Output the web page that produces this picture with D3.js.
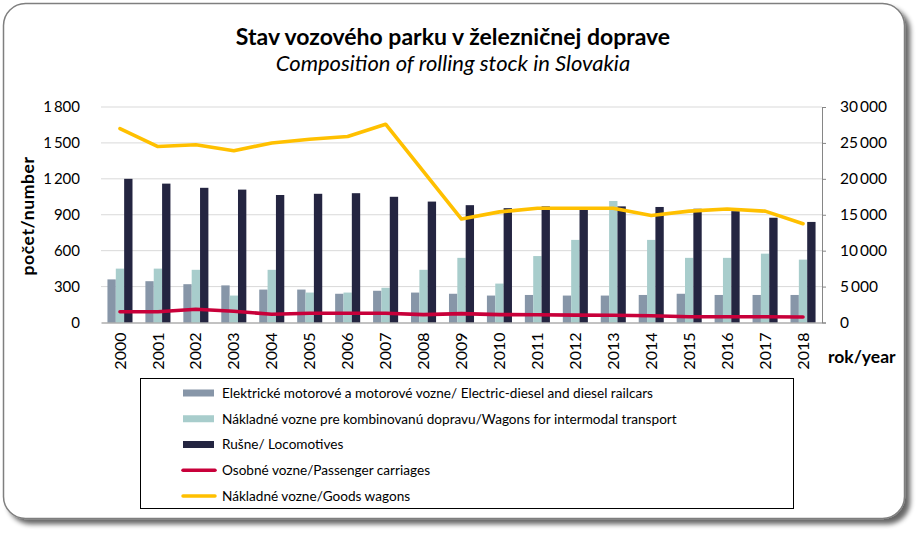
<!DOCTYPE html>
<html>
<head>
<meta charset="utf-8">
<script src="https://cdn.jsdelivr.net/npm/d3@7"></script>
<style>
  html, body { margin: 0; padding: 0; background: #ffffff; }
  svg { display: block; }
  text { font-family: Lato, "Open Sans", sans-serif; fill: #000; }
</style>
</head>
<body>
<svg id="chart" width="919" height="533"></svg>
<script>
const years = ["2000","2001","2002","2003","2004","2005","2006","2007","2008","2009","2010","2011","2012","2013","2014","2015","2016","2017","2018"];
const railcars =     [360, 345, 320, 310, 275, 275, 240, 265, 250, 240, 225, 230, 225, 225, 230, 240, 230, 230, 230];
const intermodal =   [450, 450, 440, 225, 440, 250, 250, 290, 440, 540, 325, 555, 690, 1015, 690, 540, 540, 575, 525];
const locomotives =  [1200, 1160, 1125, 1110, 1065, 1075, 1080, 1050, 1010, 980, 955, 970, 940, 970, 965, 950, 930, 875, 840];
const passenger =    [1500, 1500, 1850, 1560, 1150, 1280, 1280, 1280, 1090, 1230, 1100, 1070, 1030, 1000, 950, 810, 800, 800, 770];
const goods =        [27000, 24500, 24750, 23900, 25000, 25500, 25900, 27600, 21000, 14400, 15400, 15900, 15900, 15900, 14900, 15500, 15800, 15500, 13750];
const leftTicks = [0, 300, 600, 900, 1200, 1500, 1800];
const rightTicks = [0, 5000, 10000, 15000, 20000, 25000, 30000];

const barSeries = [
  { name: "Elektrické motorové a motorové vozne/ Electric-diesel and diesel railcars", values: railcars, color: "#8796a8" },
  { name: "Nákladné vozne pre kombinovanú dopravu/Wagons for intermodal transport", values: intermodal, color: "#a8cdcc" },
  { name: "Rušne/ Locomotives", values: locomotives, color: "#242541" }
];
const lineSeries = [
  { name: "Osobné vozne/Passenger carriages", values: passenger, color: "#c8003a" },
  { name: "Nákladné vozne/Goods wagons", values: goods, color: "#ffc000" }
];

const svg = d3.select("#chart");
const fmt = v => d3.format(",")(v).replace(/,/g, "\u2009");

// card with shadow
const defs = svg.append("defs");
const f = defs.append("filter").attr("id", "sh").attr("x", "-5%").attr("y", "-5%").attr("width", "115%").attr("height", "115%");
f.append("feGaussianBlur").attr("in", "SourceAlpha").attr("stdDeviation", 2.5).attr("result", "b");
f.append("feOffset").attr("in", "b").attr("dx", 5).attr("dy", 5).attr("result", "o");
f.append("feComponentTransfer").attr("in", "o").attr("result", "o2")
  .append("feFuncA").attr("type", "linear").attr("slope", 0.6);
const m = f.append("feMerge");
m.append("feMergeNode").attr("in", "o2");
m.append("feMergeNode").attr("in", "SourceGraphic");

svg.append("rect").attr("x", 3.5).attr("y", 3.5).attr("width", 901).attr("height", 515)
  .attr("rx", 22).attr("ry", 22).attr("fill", "#fff").attr("stroke", "#7f7f7f").attr("stroke-width", 1.5)
  .attr("filter", "url(#sh)");

// titles
svg.append("text").attr("x", 453).attr("y", 45).attr("text-anchor", "middle")
  .style("font-size", "23px").style("font-weight", "bold").text("Stav vozového parku v železničnej doprave");
svg.append("text").attr("x", 453).attr("y", 71).attr("text-anchor", "middle")
  .style("font-size", "22px").style("font-style", "italic").text("Composition of rolling stock in Slovakia");

const plotL = 101, plotR = 822, plotT = 107, plotB = 322.5;

const x = d3.scaleBand().domain(years).range([plotL, plotR]).paddingInner(0.34).paddingOuter(0.17);
const xs = d3.scaleBand().domain(d3.range(barSeries.length)).range([0, x.bandwidth()]);
const yL = d3.scaleLinear().domain([0, 1800]).range([plotB, plotT]);
const yR = d3.scaleLinear().domain([0, 30000]).range([plotB, plotT]);

// gridlines
svg.append("g").selectAll("line").data(leftTicks.filter(d => d > 0)).join("line")
  .attr("x1", plotL).attr("x2", plotR).attr("y1", d => yL(d)).attr("y2", d => yL(d))
  .attr("stroke", "#d9d9d9").attr("stroke-width", 1);

// left axis labels
const gL = svg.append("g").attr("transform", `translate(${plotL},0)`)
  .call(d3.axisLeft(yL).tickValues(leftTicks).tickFormat(fmt).tickSize(0).tickPadding(21));
gL.select(".domain").remove();
gL.selectAll("text").style("font-size", "15px").style("font-family", "Lato, sans-serif").attr("fill", "#000");

// right axis
const gR = svg.append("g").attr("transform", `translate(${plotR},0)`)
  .call(d3.axisRight(yR).tickValues(rightTicks).tickFormat(fmt).tickSize(4).tickPadding(14));
gR.select(".domain").attr("stroke", "#868686");
gR.selectAll(".tick line").attr("stroke", "#868686");
gR.selectAll("text").style("font-size", "15.5px").style("font-family", "Lato, sans-serif").attr("fill", "#000");

// bars
const groups = svg.append("g").selectAll("g").data(years).join("g")
  .attr("transform", d => `translate(${x(d)},0)`);
barSeries.forEach((s, si) => {
  groups.append("rect")
    .attr("x", xs(si)).attr("width", xs.bandwidth())
    .attr("y", (d, i) => yL(s.values[i]))
    .attr("height", (d, i) => plotB - yL(s.values[i]))
    .attr("fill", s.color);
});

// x axis
const gX = svg.append("g").attr("transform", `translate(0,${plotB})`)
  .call(d3.axisBottom(x).tickSize(0).tickPadding(0));
gX.select(".domain").attr("stroke", "#868686").attr("stroke-width", 1.2);
gX.selectAll("text").style("font-size", "16px").style("font-family", "Lato, sans-serif").attr("fill", "#000")
  .attr("transform", "rotate(-90)").attr("text-anchor", "end").attr("x", -10).attr("y", 0).attr("dy", "0.35em");

// lines
const cx = d => x(d) + x.bandwidth() / 2;
lineSeries.forEach(s => {
  const ln = d3.line().x((d, i) => cx(years[i])).y(d => yR(d));
  svg.append("path").datum(s.values).attr("d", ln).attr("fill", "none")
    .attr("stroke", s.color).attr("stroke-width", 3.6).attr("stroke-linejoin", "round").attr("stroke-linecap", "round");
});

// axis titles
svg.append("text").attr("transform", "translate(34,216) rotate(-90)").attr("text-anchor", "middle")
  .style("font-size", "17.5px").style("font-weight", "bold").style("letter-spacing", "0.6px").text("počet/number");
svg.append("text").attr("x", 828).attr("y", 363)
  .style("font-size", "17.5px").style("font-weight", "bold").text("rok/year");

// legend
const lg = svg.append("g");
lg.append("rect").attr("x", 140.5).attr("y", 378.5).attr("width", 653).attr("height", 130)
  .attr("fill", "#fff").attr("stroke", "#000").attr("stroke-width", 1);
const items = barSeries.map(s => ({ ...s, type: "bar" })).concat(lineSeries.map(s => ({ ...s, type: "line" })));
const rowY = d3.scalePoint().domain(d3.range(items.length)).range([393, 496]);
items.forEach((it, i) => {
  const y = rowY(i);
  if (it.type === "bar") {
    lg.append("rect").attr("x", 183).attr("y", y - 3.5).attr("width", 31).attr("height", 7).attr("fill", it.color);
  } else {
    lg.append("line").attr("x1", 183).attr("x2", 215).attr("y1", y).attr("y2", y)
      .attr("stroke", it.color).attr("stroke-width", 3.5).attr("stroke-linecap", "round");
  }
  lg.append("text").attr("x", 222).attr("y", y).attr("dy", "0.35em").style("font-size", "13.6px").text(it.name);
});
</script>
</body>
</html>
